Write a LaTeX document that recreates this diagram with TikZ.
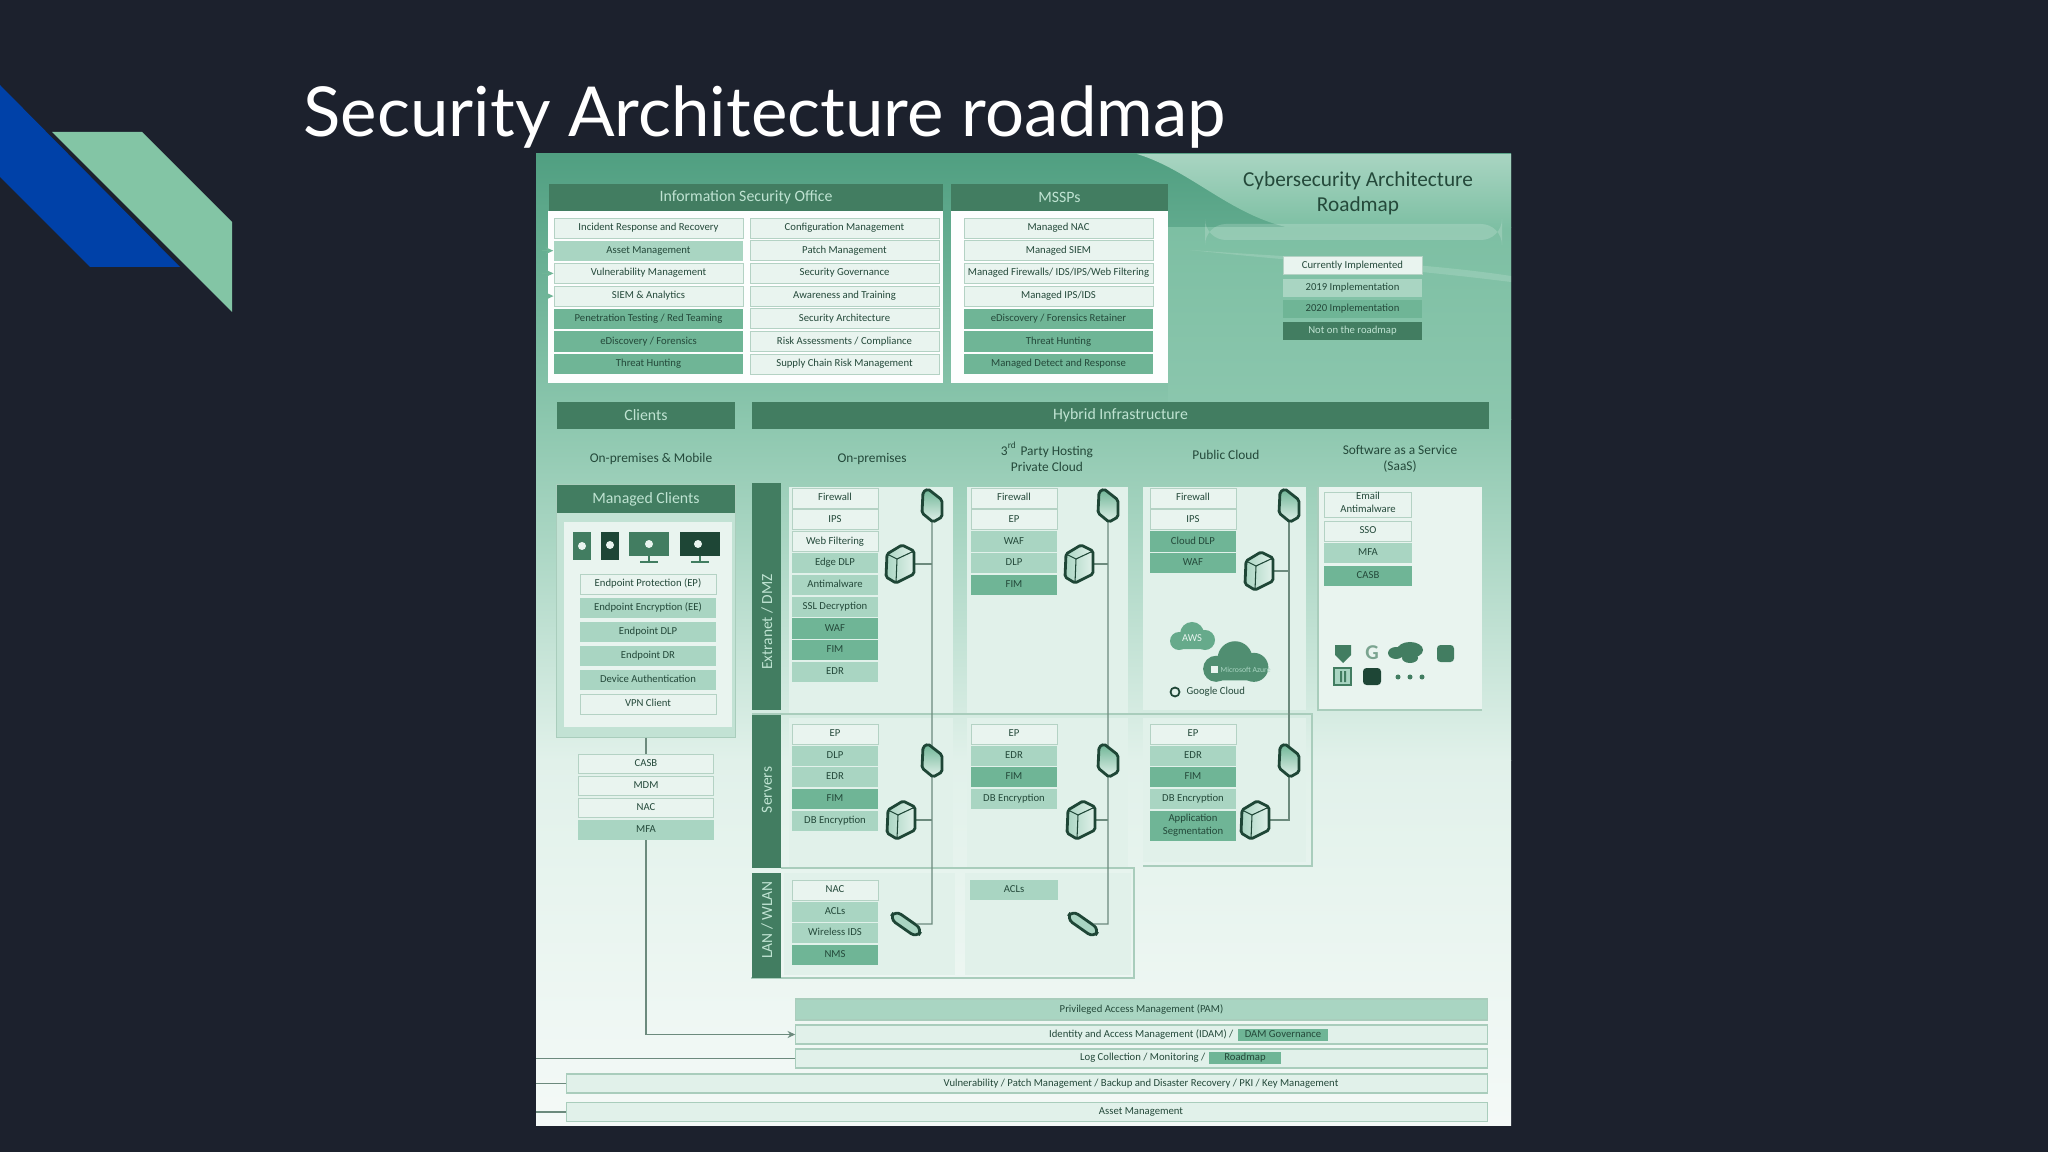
\documentclass[tikz,border=0pt]{standalone}
\usepackage{fontspec}
\setmainfont{Carlito}
\newfontfamily\titlefont{Lato}
\usetikzlibrary{positioning,arrows.meta}
\usepackage{xcolor}

\definecolor{slidebg}{HTML}{1C212D}
\definecolor{logoblue}{HTML}{0041A8}
\definecolor{logogreen}{HTML}{83C5A5}
\definecolor{bgtop}{HTML}{509F81}
\definecolor{bgmid}{HTML}{8CC7AE}
\definecolor{bgright}{HTML}{7DBFA3}
\definecolor{hdrgreen}{HTML}{427D61}
\definecolor{hdrtext}{HTML}{BFE3D2}
\definecolor{inktext}{HTML}{24493A}
\definecolor{rowwhite}{HTML}{E9F4EF}
\definecolor{rowlight}{HTML}{A9D5C2}
\definecolor{rowmid}{HTML}{6FB596}
\definecolor{rowedge}{HTML}{B4D2C4}
\definecolor{panelfill}{HTML}{E1F1EA}
\definecolor{paneledge}{HTML}{A9CDBC}
\definecolor{wirecol}{HTML}{6C8A7D}
\definecolor{icondark}{HTML}{1E4636}

\begin{document}
\begin{tikzpicture}[
    x=0.01cm, y=-0.01cm,
    >={Stealth[length=2.2pt,width=2pt]},
    rowbox/.style={inner sep=0pt, minimum height=0.2cm, text=inktext, align=center,
        font=\fontsize{3.04}{3.6}\selectfont, execute at begin node=\strut},
    rowW/.style={fill=rowwhite, draw=rowedge, line width=0.25pt},
    rowA/.style={fill=rowlight},
    rowM/.style={fill=rowmid},
    rowD/.style={fill=hdrgreen, text=hdrtext},
    hdrbox/.style={fill=hdrgreen, inner sep=0pt, minimum height=0.27cm, text=hdrtext,
        font=\fontsize{4.5}{5.5}\selectfont},
    sidebar/.style={fill=hdrgreen, inner sep=0pt, minimum width=0.29cm},
    sidetext/.style={rotate=90, inner sep=0pt, text=hdrtext, font=\fontsize{4.4}{5}\selectfont},
    colhead/.style={inner sep=0pt, align=center, text=inktext, font=\fontsize{3.8}{4.6}\selectfont},
    panel/.style={fill=rowlight!55!panelfill, draw=paneledge, line width=0.3pt},
    barbox/.style={fill=panelfill, draw=paneledge, line width=0.3pt, inner sep=0pt,
        text=inktext, minimum height=0.19cm, font=\fontsize{3.04}{3.6}\selectfont},
    plain/.style={inner sep=0pt, text=inktext, font=\fontsize{3.04}{3.6}\selectfont},
    wire/.style={draw=wirecol, line width=0.4pt},
    firewallpic/.pic={
        \draw[icondark, line width=0.8pt, rounded corners=0.5pt, top color=rowmid, bottom color=panelfill]
        (-9,-13) -- (-4,-16) -- (10,-5) -- (10,12) -- (1,17) -- (-10,8) -- cycle;
    },
    serverpic/.pic={
        \draw[icondark, line width=0.8pt, rounded corners=0.5pt, left color=rowlight, right color=panelfill]
        (2,-19) -- (14,-13) -- (14,10) -- (-4,19) -- (-14,13) -- (-13,-10) -- cycle;
        \draw[icondark, line width=0.3pt] (-13,-10) -- (-3,-5) -- (14,-13) (-3,-5) -- (-4,19);
    },
    cloudpic/.pic={
        \fill (-13,4) circle (0.09cm) (0,-3) circle (0.12cm) (13,3) circle (0.1cm);
        \fill[rounded corners=2pt] (-20,2) rectangle (20,12);
    }
]

\useasboundingbox (0,0) rectangle (2048,1152);
\fill[slidebg] (0,0) rectangle (2048,1152);

\fill[logoblue] (0,85) -- (180,267) -- (90,267) -- (0,177) -- cycle;
\fill[logogreen] (52,132) -- (142,132) -- (232,222) -- (232,312) -- cycle;

\node[anchor=base west, inner sep=0pt, text=white, font=\titlefont\fontsize{19.6}{24}\selectfont]
    (slidetitle) at (303,137) {Security Architecture roadmap};

\shade[top color=bgtop, bottom color=bgmid] (536,154) rectangle (1511,420);
\shade[top color=bgmid, bottom color=panelfill] (536,420) rectangle (1511,760);
\shade[top color=panelfill, bottom color=rowwhite!50!white] (536,760) rectangle (1511,1125);
\shade[top color=bgright, bottom color=bgmid] (1168,228) rectangle (1511,420);
\shade[top color=rowlight, bottom color=bgright]
    (1137,154) .. controls (1190,170) and (1230,215) .. (1290,228) -- (1511,228) -- (1511,154) -- cycle;
\fill[white, opacity=0.18, rounded corners=6pt] (1205,224) rectangle (1502,240);
\fill[white, opacity=0.15] (1190,250) .. controls (1300,258) and (1420,262) .. (1511,276) -- (1511,282)
    .. controls (1400,268) and (1300,262) .. (1190,250) -- cycle;

\node[inner sep=0pt, align=center, text=inktext, font=\fontsize{6.05}{7.1}\selectfont]
    (roadmaptitle) at (1358,193) {Cybersecurity Architecture\\Roadmap};

\foreach \t/\s/\h [count=\i] in {Currently Implemented/rowW/265.5, 2019 Implementation/rowA/288,
    2020 Implementation/rowM/309, Not on the roadmap/rowD/331}{
    \node[rowbox,\s,minimum width=1.39cm,minimum height=0.18cm] (legend\i) at (1352.5,\h) {\t};
}

\fill[white!92!rowwhite] (548,211) rectangle (943,383);
\fill[white!92!rowwhite] (951,211) rectangle (1168,383);
\node[hdrbox,minimum width=3.94cm] (isohdr) at (746,197.5) {Information Security Office};
\node[hdrbox,minimum width=2.17cm] (msshdr) at (1059.5,197.5) {MSSPs};

\foreach \t/\s [count=\i] in {Incident Response and Recovery/rowW, Asset Management/rowA,
    Vulnerability Management/rowW, SIEM \& Analytics/rowW, {Penetration Testing / Red Teaming}/rowM,
    {eDiscovery / Forensics}/rowM, Threat Hunting/rowM}{
    \node[rowbox,\s,minimum width=1.89cm] (isoa\i) at (648.5,{228+22.7*(\i-1)}) {\t};
}
\foreach \t/\s [count=\i] in {Configuration Management/rowW, Patch Management/rowW,
    Security Governance/rowW, Awareness and Training/rowW, Security Architecture/rowW,
    {Risk Assessments / Compliance}/rowW, Supply Chain Risk Management/rowW}{
    \node[rowbox,\s,minimum width=1.89cm] (isob\i) at (844.5,{228+22.7*(\i-1)}) {\t};
}
\foreach \t/\s [count=\i] in {Managed NAC/rowW, Managed SIEM/rowW,
    {Managed Firewalls/ IDS/IPS/Web Filtering}/rowW, {Managed IPS/IDS}/rowW,
    {eDiscovery / Forensics Retainer}/rowM, Threat Hunting/rowM, Managed Detect and Response/rowM}{
    \node[rowbox,\s,minimum width=1.89cm] (mss\i) at (1058.5,{228+22.7*(\i-1)}) {\t};
}
\foreach \i in {2,3,4}{
    \coordinate (isostub\i) at (542,{228+22.7*(\i-1)});
    \draw[->, draw=rowmid, line width=0.3pt] (isostub\i) -- (isoa\i.west);
}

\node[hdrbox,minimum width=1.78cm] (clienthdr) at (646,415.5) {Clients};
\node[hdrbox,minimum width=7.37cm] (hybridhdr) at (1120.5,415.5) {Hybrid Infrastructure};

\node[colhead] (colclient) at (651,459) {On-premises \& Mobile};
\node[colhead] (colprem) at (872,459) {On-premises};
\node[colhead] (colthird) at (1047,457) {3\textsuperscript{rd} Party Hosting\\Private Cloud};
\node[colhead] (colpublic) at (1226,455) {Public Cloud};
\node[colhead] (colsaas) at (1400,459) {Software as a Service\\(SaaS)};

\node[panel,inner sep=0pt,minimum width=1.78cm,minimum height=2.52cm] (mcbox) at (646,611) {};
\node[fill=rowwhite,inner sep=0pt,minimum width=1.68cm,minimum height=2.05cm] (mcinner) at (648,624.5) {};
\node[hdrbox,minimum width=1.78cm,minimum height=0.28cm] (mchdr) at (646,499) {Managed Clients};

\fill[hdrgreen] (573,532) rectangle (591,560);
\fill[icondark] (601,532) rectangle (619,560);
\fill[hdrgreen] (629,532) rectangle (669,556);
\fill[icondark] (680,532) rectangle (720,556);
\draw[hdrgreen, line width=0.3pt] (649,556) -- (649,562) (640,562) -- (658,562);
\draw[hdrgreen, line width=0.3pt] (700,556) -- (700,562) (691,562) -- (709,562);
\fill[rowwhite] (582,546) circle (0.04cm) (610,545) circle (0.04cm) (649,544) circle (0.04cm) (698,544) circle (0.04cm);

\foreach \t/\s [count=\i] in {Endpoint Protection (EP)/rowW, Endpoint Encryption (EE)/rowA,
    Endpoint DLP/rowA, Endpoint DR/rowA, Device Authentication/rowA, VPN Client/rowW}{
    \node[rowbox,\s,minimum width=1.36cm] (mc\i) at (648,{584+24*(\i-1)}) {\t};
}
\foreach \t/\s [count=\i] in {CASB/rowW, MDM/rowW, NAC/rowW, MFA/rowA}{
    \node[rowbox,\s,minimum width=1.35cm,minimum height=0.19cm] (stack\i) at (646,{764+22*(\i-1)}) {\t};
}
\draw[wire] (mcbox.south) -- (stack1.north);

\fill[panelfill] (789,487) rectangle (953,713);
\fill[panelfill] (967,487) rectangle (1128,713);
\fill[panelfill] (1143,487) rectangle (1306,710);
\fill[rowwhite] (1318,487) rectangle (1482,710);
\draw[paneledge, line width=0.6pt] (1482,710) -- (1318,710) -- (1318,487);
\fill[panelfill] (789,718) rectangle (953,867);
\fill[panelfill] (967,718) rectangle (1128,867);
\fill[panelfill] (1143,718) rectangle (1306,862);
\fill[panelfill] (784,873) rectangle (955,975);
\fill[panelfill] (965,873) rectangle (1131,975);
\draw[paneledge, line width=0.5pt] (752,714) -- (1312,714) -- (1312,866) -- (1143,866);
\draw[paneledge, line width=0.5pt] (781,868) -- (1134,868) -- (1134,978) -- (751,978);

\node[sidebar,minimum height=2.27cm] (dmzbar) at (766,596.5) {};
\node[sidebar,minimum height=1.53cm] (srvbar) at (766,791.5) {};
\node[sidebar,minimum height=1.05cm] (lanbar) at (766,925.5) {};
\node[sidetext] (dmztext) at (767,622) {Extranet / DMZ};
\node[sidetext] (srvtext) at (767,790) {Servers};
\node[sidetext] (lantext) at (767,920) {LAN / WLAN};

\foreach \t/\s [count=\i] in {Firewall/rowW, IPS/rowW, Web Filtering/rowW, Edge DLP/rowA, Antimalware/rowA,
    SSL Decryption/rowA, WAF/rowM, FIM/rowM, EDR/rowA}{
    \node[rowbox,\s,minimum width=0.86cm] (prem\i) at (835,{498+21.75*(\i-1)}) {\t};
}
\foreach \t/\s [count=\i] in {Firewall/rowW, EP/rowW, WAF/rowA, DLP/rowA, FIM/rowM}{
    \node[rowbox,\s,minimum width=0.86cm] (third\i) at (1014,{498+21.75*(\i-1)}) {\t};
}
\foreach \t/\s [count=\i] in {Firewall/rowW, IPS/rowW, Cloud DLP/rowM, WAF/rowM}{
    \node[rowbox,\s,minimum width=0.86cm] (cloud\i) at (1193,{498+21.75*(\i-1)}) {\t};
}
\node[rowbox,rowW,minimum width=0.87cm,minimum height=0.25cm] (saas1) at (1368,504.5) {Email\\Antimalware};
\foreach \t/\s/\h [count=\i from 2] in {SSO/rowW/531, MFA/rowA/553, CASB/rowM/576}{
    \node[rowbox,\s,minimum width=0.87cm] (saas\i) at (1368,\h) {\t};
}

\foreach \t/\s [count=\i] in {EP/rowW, DLP/rowA, EDR/rowA, FIM/rowM, DB Encryption/rowA}{
    \node[rowbox,\s,minimum width=0.86cm] (premsrv\i) at (835,{734+21.7*(\i-1)}) {\t};
}
\foreach \t/\s [count=\i] in {EP/rowW, EDR/rowA, FIM/rowM, DB Encryption/rowA}{
    \node[rowbox,\s,minimum width=0.86cm] (thirdsrv\i) at (1014,{734+21.7*(\i-1)}) {\t};
}
\foreach \t/\s [count=\i] in {EP/rowW, EDR/rowA, FIM/rowM, DB Encryption/rowA}{
    \node[rowbox,\s,minimum width=0.86cm] (cloudsrv\i) at (1193,{734+21.7*(\i-1)}) {\t};
}
\node[rowbox,rowM,minimum width=0.86cm,minimum height=0.3cm] (cloudsrv5) at (1193,826) {Application\\Segmentation};

\foreach \t/\s [count=\i] in {NAC/rowW, ACLs/rowA, Wireless IDS/rowA, NMS/rowM}{
    \node[rowbox,\s,minimum width=0.86cm] (premlan\i) at (835,{890+21.7*(\i-1)}) {\t};
}
\node[rowbox,rowA,minimum width=0.87cm] (thirdlan1) at (1014,890) {ACLs};

\coordinate (fwA) at (932,505);
\coordinate (fwB) at (1108,505);
\coordinate (fwC) at (1289,505);
\coordinate (fwD) at (932,760);
\coordinate (fwE) at (1108,760);
\coordinate (fwF) at (1289,760);
\coordinate (srvA) at (900,564);
\coordinate (srvB) at (1079,564);
\coordinate (srvC) at (1259,571);
\coordinate (srvD) at (901,820);
\coordinate (srvE) at (1081,820);
\coordinate (srvF) at (1255,820);

\node[draw=icondark,line width=0.8pt,fill=rowlight,rounded corners=2pt,inner sep=0pt,
    minimum width=0.33cm,minimum height=0.1cm,rotate=-35] (swA) at (906,924) {};
\node[draw=icondark,line width=0.8pt,fill=rowlight,rounded corners=2pt,inner sep=0pt,
    minimum width=0.33cm,minimum height=0.1cm,rotate=-35] (swB) at (1083,924) {};

\draw[wire] (fwA) -- (fwA |- swA) -- (swA);
\draw[wire] (fwB) -- (fwB |- swB) -- (swB);
\draw[wire] (fwC) -- (fwC |- srvF) -- (srvF);
\foreach \a/\b in {srvA/fwA, srvB/fwB, srvC/fwC, srvD/fwD, srvE/fwE}{
    \draw[wire] (\a) -- (\a -| \b);
}
\foreach \a in {fwA,fwB,fwC,fwD,fwE,fwF}{
    \pic at (\a) {firewallpic};
}
\foreach \a in {srvA,srvB,srvC,srvD,srvE,srvF}{
    \pic at (\a) {serverpic};
}

\coordinate (cloudA) at (1192,637);
\coordinate (cloudB) at (1235,663);
\pic[rowmid!80!hdrgreen, scale=1] at (cloudA) {cloudpic};
\pic[hdrgreen!70!rowmid, scale=1.45] at (cloudB) {cloudpic};
\node[inner sep=0pt, text=rowwhite, font=\fontsize{3}{4}\selectfont] (awstext) at (1192,638) {AWS};
\fill[rowwhite] (1211,666) rectangle (1218,673);
\node[anchor=west, inner sep=0pt, text=rowlight, font=\fontsize{2.2}{3}\selectfont] (azuretext) at (1220,670) {Microsoft Azure};
\draw[icondark, line width=0.5pt] (1175,692) circle (0.045cm);
\node[plain, anchor=west] (gcptext) at (1186,692) {Google Cloud};

\fill[hdrgreen] (1335,645) -- (1351,645) -- (1351,655) -- (1343,663) -- (1335,655) -- cycle;
\node[inner sep=0pt, text=hdrgreen!70, font=\bfseries\fontsize{6}{7}\selectfont] (saasG) at (1372,653) {G};
\fill[hdrgreen] (1396,653) ellipse (0.08cm and 0.06cm) (1410,650) ellipse (0.13cm and 0.08cm) (1410,658) ellipse (0.08cm and 0.05cm);
\fill[hdrgreen, rounded corners=1pt] (1437,645) rectangle (1454,662);
\draw[hdrgreen, line width=0.6pt, fill=rowlight] (1334,668) rectangle (1351,685);
\fill[hdrgreen] (1340,671) rectangle (1342,682) (1344,671) rectangle (1346,682);
\fill[icondark, rounded corners=1pt] (1363,668) rectangle (1381,685);
\foreach \xx in {1398,1410,1422}{
    \fill[hdrgreen] (\xx,677) circle (0.025cm);
}

\node[barbox,fill=rowlight,minimum width=6.91cm,minimum height=0.21cm] (pambar) at (1141.5,1009.5) {Privileged Access Management (PAM)};
\node[barbox,minimum width=6.91cm] (iambar) at (1141.5,1034.5) {};
\node[barbox,minimum width=6.91cm] (logbar) at (1141.5,1058.5) {};
\node[barbox,minimum width=9.2cm] (vulnbar) at (1027,1083.5) {};
\node[barbox,minimum width=9.2cm] (assetbar) at (1027,1112) {};
\node[plain, anchor=east] (iamtext) at (1234,1035) {Identity and Access Management (IDAM) /};
\node[rowbox,rowM,minimum width=0.9cm,minimum height=0.12cm] (iamtag) at (1283,1035) {DAM Governance};
\node[plain, anchor=east] (logtext) at (1206,1058) {Log Collection / Monitoring /};
\node[rowbox,rowM,minimum width=0.72cm,minimum height=0.12cm] (logtag) at (1245,1058) {Roadmap};
\node[plain] (vulntext) at (1141,1083.5) {Vulnerability / Patch Management / Backup and Disaster Recovery / PKI / Key Management};
\node[plain] (assettext) at (1141,1112) {Asset Management};

\draw[->, wire] (stack4.south) |- (iambar.west);
\coordinate (logedge) at (536,1058.5);
\coordinate (vulnedge) at (536,1083.5);
\coordinate (assetedge) at (536,1112);
\draw[wire] (logedge) -- (logbar.west);
\draw[wire] (vulnedge) -- (vulnbar.west);
\draw[wire] (assetedge) -- (assetbar.west);

\end{tikzpicture}
\end{document}
